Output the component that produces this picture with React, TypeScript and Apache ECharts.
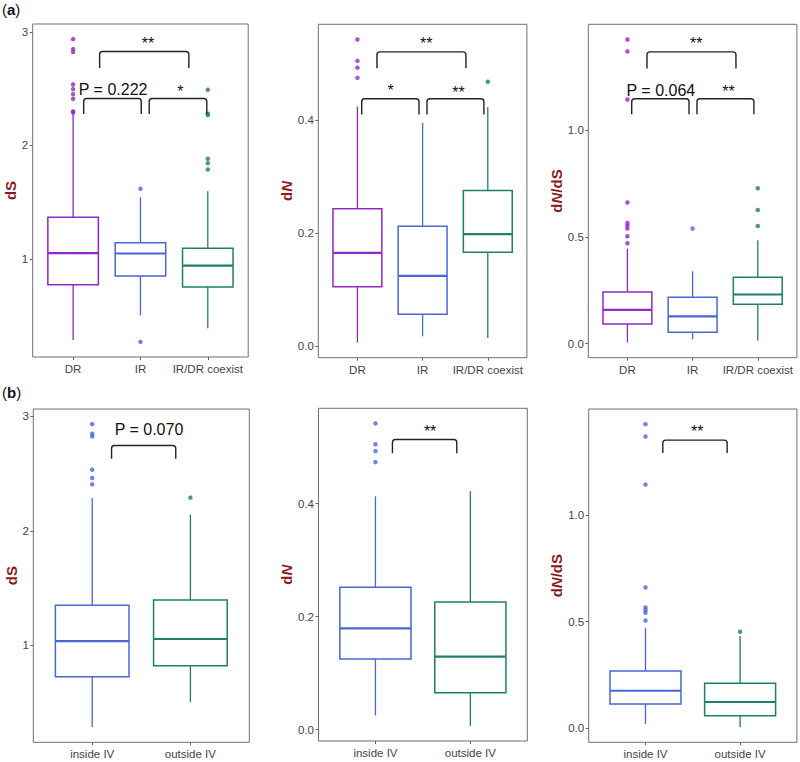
import { useEffect, useRef } from "react";
import * as echarts from "echarts";

// ---------- data ----------
const groupsA = ["DR", "IR", "IR/DR coexist"];
const groupsB = ["inside IV", "outside IV"];
const colorsA = ["#9526c6", "#4a66d2", "#1f7f6f"];
const colorsB = ["#4a66d2", "#1f7f6f"];

// box stats: [lower whisker, Q1, median, Q3, upper whisker]
const dsA = [
  [0.286, 0.771, 1.05, 1.367, 2.31],
  [0.504, 0.848, 1.047, 1.141, 1.543],
  [0.389, 0.753, 0.941, 1.094, 1.596],
];
const dsAOutliers = [
  [2.935, 2.847, 2.821, 2.536, 2.495, 2.451, 2.41, 2.298, 2.289],
  [1.617, 0.269],
  [2.489, 2.278, 2.266, 1.881, 1.843, 1.787],
];
const dnA = [
  [0.006, 0.105, 0.165, 0.243, 0.424],
  [0.017, 0.056, 0.124, 0.212, 0.395],
  [0.014, 0.166, 0.198, 0.2755, 0.423],
];
const dnAOutliers = [[0.543, 0.505, 0.493, 0.475], [], [0.468]];
const dndsA = [
  [0.005, 0.092, 0.158, 0.242, 0.445],
  [0.02, 0.053, 0.128, 0.217, 0.339],
  [0.015, 0.184, 0.23, 0.311, 0.484],
];
const dndsAOutliers = [
  [1.425, 1.369, 1.144, 0.661, 0.565, 0.553, 0.539, 0.503, 0.47],
  [0.539],
  [0.728, 0.626, 0.551],
];
const dsB = [
  [0.285, 0.726, 1.037, 1.349, 2.287],
  [0.503, 0.822, 1.055, 1.395, 2.142],
];
const dsBOutliers = [[2.932, 2.848, 2.825, 2.534, 2.461, 2.406], [2.29]];
const dnB = [
  [0.025, 0.125, 0.179, 0.252, 0.413],
  [0.0065, 0.065, 0.129, 0.226, 0.422],
];
const dnBOutliers = [[0.542, 0.505, 0.493, 0.4735], []];
const dndsB = [
  [0.019, 0.114, 0.176, 0.269, 0.472],
  [0.005, 0.058, 0.123, 0.211, 0.433],
];
const dndsBOutliers = [[1.428, 1.37, 1.144, 0.661, 0.567, 0.555, 0.542, 0.506], [0.453]];

// y ticks
const dsTicks = [1, 2, 3];
const dsTickLabels = ["1", "2", "3"];
const dnTicks = [0, 0.2, 0.4];
const dnTickLabels = ["0.0", "0.2", "0.4"];
const dndsTicks = [0, 0.5, 1.0];
const dndsTickLabels = ["0.0", "0.5", "1.0"];

// significance annotations (category-index / value units)
const sigDsA = [
  { from: 0.394, to: 1.719, top: 2.826, drop: 2.68, lx: 1.113, ly: 2.93, text: "**" },
  { from: 0.157, to: 1.012, top: 2.412, drop: 2.275, lx: 0.594, ly: 2.489, text: "P = 0.222" },
  { from: 1.13, to: 1.985, top: 2.412, drop: 2.275, lx: 1.594, ly: 2.504, text: "*" },
];
const sigDnA = [
  { from: 0.3, to: 1.665, top: 0.521, drop: 0.492, lx: 1.057, ly: 0.542, text: "**" },
  { from: 0.066, to: 0.945, top: 0.438, drop: 0.41, lx: 0.51, ly: 0.458, text: "*" },
  { from: 1.067, to: 1.94, top: 0.438, drop: 0.41, lx: 1.551, ly: 0.456, text: "**" },
];
const sigDndsA = [
  { from: 0.3, to: 1.665, top: 1.367, drop: 1.289, lx: 1.057, ly: 1.422, text: "**" },
  { from: 0.066, to: 0.945, top: 1.147, drop: 1.074, lx: 0.513, ly: 1.1875, text: "P = 0.064" },
  { from: 1.067, to: 1.94, top: 1.147, drop: 1.074, lx: 1.551, ly: 1.1955, text: "**" },
];
const sigDsB = [{ from: 0.197, to: 0.851, top: 2.746, drop: 2.63, lx: 0.578, ly: 2.886, text: "P = 0.070" }];
const sigDnB = [{ from: 0.179, to: 0.857, top: 0.5135, drop: 0.489, lx: 0.576, ly: 0.534, text: "**" }];
const sigDndsB = [{ from: 0.183, to: 0.863, top: 1.353, drop: 1.292, lx: 0.546, ly: 1.411, text: "**" }];

// ---------- layout / styling ----------
const FONT = "'Liberation Sans', Arial, Helvetica, sans-serif";
const TITLE_RED = "#8b1a1a";

type Panel = {
  groups: string[];
  colors: string[];
  stats: number[][];
  outliers: number[][];
  ticks: number[];
  tickLabels: string[];
  sig: any[];
  name: string;
  grid: { left: number; top: number; width: number; height: number };
  nameGap: number;
};

const panels: Panel[] = [
  { groups: groupsA, colors: colorsA, stats: dsA, outliers: dsAOutliers, ticks: dsTicks, tickLabels: dsTickLabels, sig: sigDsA, name: "{b|dS}", grid: { left: 32.7, top: 24, width: 215.5, height: 333 }, nameGap: 9 },
  { groups: groupsA, colors: colorsA, stats: dnA, outliers: dnAOutliers, ticks: dnTicks, tickLabels: dnTickLabels, sig: sigDnA, name: "{b|d}{bi|N}", grid: { left: 318.3, top: 24.3, width: 208.6, height: 333.4 }, nameGap: 12 },
  { groups: groupsA, colors: colorsA, stats: dndsA, outliers: dndsAOutliers, ticks: dndsTicks, tickLabels: dndsTickLabels, sig: sigDndsA, name: "{b|d}{bi|N}{b|/dS}", grid: { left: 588.3, top: 24.3, width: 208.6, height: 333.4 }, nameGap: 12 },
  { groups: groupsB, colors: colorsB, stats: dsB, outliers: dsBOutliers, ticks: dsTicks, tickLabels: dsTickLabels, sig: sigDsB, name: "{b|dS}", grid: { left: 33.3, top: 409, width: 216, height: 333.3 }, nameGap: 9 },
  { groups: groupsB, colors: colorsB, stats: dnB, outliers: dnBOutliers, ticks: dnTicks, tickLabels: dnTickLabels, sig: sigDnB, name: "{b|d}{bi|N}", grid: { left: 318.5, top: 408.3, width: 208.8, height: 332.7 }, nameGap: 12 },
  { groups: groupsB, colors: colorsB, stats: dndsB, outliers: dndsBOutliers, ticks: dndsTicks, tickLabels: dndsTickLabels, sig: sigDndsB, name: "{b|d}{bi|N}{b|/dS}", grid: { left: 588.7, top: 409, width: 208.2, height: 333.3 }, nameGap: 12 },
];

function buildOption() {
  const grid: any[] = [];
  const xAxis: any[] = [];
  const yAxis: any[] = [];
  const series: any[] = [];

  panels.forEach((p, k) => {
    const all = p.stats.flat().concat(p.outliers.flat());
    const lo = Math.min(...all);
    const hi = Math.max(...all);
    const pad = (hi - lo) * 0.05;
    const n = p.groups.length;
    const idx = p.groups.map((_, i) => i);

    grid.push({
      ...p.grid,
      show: true,
      borderColor: "#707070",
      borderWidth: 1,
      backgroundColor: "transparent",
      containLabel: false,
      outerBoundsMode: "none",
    });
    xAxis.push({
      type: "value",
      gridIndex: k,
      position: "bottom",
      min: -0.6,
      max: n - 0.4,
      axisLine: { show: false, onZero: false },
      splitLine: { show: false },
      axisTick: { show: true, length: 3, customValues: idx, lineStyle: { color: "#666", width: 1 } },
      axisLabel: {
        show: true,
        customValues: idx,
        margin: 6,
        fontSize: 11.5,
        fontFamily: FONT,
        color: "#444",
        formatter: (v: number) => p.groups[Math.round(v)] ?? "",
      },
    });
    yAxis.push({
      type: "value",
      gridIndex: k,
      position: "left",
      min: lo - pad,
      max: hi + pad,
      axisLine: { show: false, onZero: false },
      splitLine: { show: false },
      axisTick: { show: true, length: 3, customValues: p.ticks, lineStyle: { color: "#666", width: 1 } },
      axisLabel: {
        show: true,
        customValues: p.ticks,
        margin: 4.5,
        fontSize: 11.5,
        fontFamily: FONT,
        color: "#444",
        formatter: (v: number) => {
          const j = p.ticks.findIndex((t) => Math.abs(t - v) < 1e-6);
          return j >= 0 ? p.tickLabels[j] : "";
        },
      },
      name: p.name,
      nameLocation: "middle",
      nameGap: p.nameGap,
      nameTextStyle: {
        color: TITLE_RED,
        fontFamily: FONT,
        fontSize: 15,
        fontWeight: "bold",
        rich: {
          b: { color: TITLE_RED, fontFamily: FONT, fontSize: 15, fontWeight: "bold" },
          bi: { color: TITLE_RED, fontFamily: FONT, fontSize: 15, fontWeight: "bold", fontStyle: "italic" },
        },
      },
    });

    const colors = p.colors;
    // boxes
    series.push({
      type: "custom",
      xAxisIndex: k,
      yAxisIndex: k,
      data: p.stats.map((s, i) => [i, ...s]),
      encode: { x: 0, y: [1, 2, 3, 4, 5] },
      z: 2,
      renderItem: (params: any, api: any) => {
        const i = api.value(0);
        const unit = api.size([1, 0])[0];
        const half = unit * 0.375;
        const pMin = api.coord([i, api.value(1)]);
        const pQ1 = api.coord([i, api.value(2)]);
        const pMed = api.coord([i, api.value(3)]);
        const pQ3 = api.coord([i, api.value(4)]);
        const pMax = api.coord([i, api.value(5)]);
        const c = colors[params.dataIndex];
        return {
          type: "group",
          children: [
            { type: "line", shape: { x1: pMax[0], y1: pMax[1], x2: pQ3[0], y2: pQ3[1] }, style: { stroke: c, lineWidth: 1.3 } },
            { type: "line", shape: { x1: pMin[0], y1: pMin[1], x2: pQ1[0], y2: pQ1[1] }, style: { stroke: c, lineWidth: 1.3 } },
            {
              type: "rect",
              shape: { x: pQ3[0] - half, y: pQ3[1], width: half * 2, height: pQ1[1] - pQ3[1] },
              style: { fill: "rgba(255,255,255,0)", stroke: c, lineWidth: 1.5 },
            },
            { type: "line", shape: { x1: pMed[0] - half, y1: pMed[1], x2: pMed[0] + half, y2: pMed[1] }, style: { stroke: c, lineWidth: 2.2 } },
          ],
        };
      },
    });
    // outliers
    const pts: number[][] = [];
    p.outliers.forEach((arr, i) => arr.forEach((v) => pts.push([i, v])));
    series.push({
      type: "scatter",
      xAxisIndex: k,
      yAxisIndex: k,
      data: pts,
      symbol: "circle",
      symbolSize: 4.5,
      z: 3,
      itemStyle: { color: (d: any) => colors[d.data[0]] },
    });
    // significance brackets
    const sig = p.sig;
    series.push({
      type: "custom",
      xAxisIndex: k,
      yAxisIndex: k,
      data: sig.map((b) => [b.from, b.to, b.top, b.drop, b.lx, b.ly]),
      encode: { x: [0, 1, 4], y: [2, 3, 5] },
      z: 4,
      renderItem: (params: any, api: any) => {
        const b = sig[params.dataIndex];
        const a = api.coord([api.value(0), api.value(2)]);
        const e = api.coord([api.value(1), api.value(2)]);
        const yd = api.coord([api.value(0), api.value(3)])[1];
        const lp = api.coord([api.value(4), api.value(5)]);
        const r = 3;
        const d = `M${a[0]},${yd} L${a[0]},${a[1] + r} Q${a[0]},${a[1]} ${a[0] + r},${a[1]} L${e[0] - r},${e[1]} Q${e[0]},${e[1]} ${e[0]},${e[1] + r} L${e[0]},${yd}`;
        const stars = b.text.indexOf("*") >= 0;
        return {
          type: "group",
          children: [
            { type: "path", shape: { pathData: d }, style: { fill: "none", stroke: "#222", lineWidth: 1.4 } },
            {
              type: "text",
              x: lp[0],
              y: lp[1] + (stars ? 3.5 : 0),
              style: {
                text: b.text,
                fontSize: 16,
                fontFamily: FONT,
                fill: "#111",
                align: "center",
                verticalAlign: "middle",
              },
            },
          ],
        };
      },
    });
  });

  return {
    animation: false,
    backgroundColor: "#ffffff",
    grid,
    xAxis,
    yAxis,
    series,
    graphic: [
      {
        type: "text",
        left: 2,
        top: 2,
        style: {
          text: "({b|a})",
          fontSize: 15,
          fontFamily: FONT,
          fill: "#111",
          rich: { b: { fontSize: 15, fontFamily: FONT, fontWeight: "bold", fill: "#111" } },
        },
      },
      {
        type: "text",
        left: 2,
        top: 385,
        style: {
          text: "({b|b})",
          fontSize: 15,
          fontFamily: FONT,
          fill: "#111",
          rich: { b: { fontSize: 15, fontFamily: FONT, fontWeight: "bold", fill: "#111" } },
        },
      },
    ],
  };
}

export default function App() {
  const ref = useRef<HTMLDivElement>(null);
  useEffect(() => {
    if (!ref.current) return;
    const chart = echarts.init(ref.current, undefined, { renderer: "svg" });
    chart.setOption(buildOption() as any);
    return () => chart.dispose();
  }, []);
  return (
    <div
      ref={ref}
      style={{ position: "absolute", left: 0, top: 0, width: 800, height: 762, background: "#fff" }}
    />
  );
}
